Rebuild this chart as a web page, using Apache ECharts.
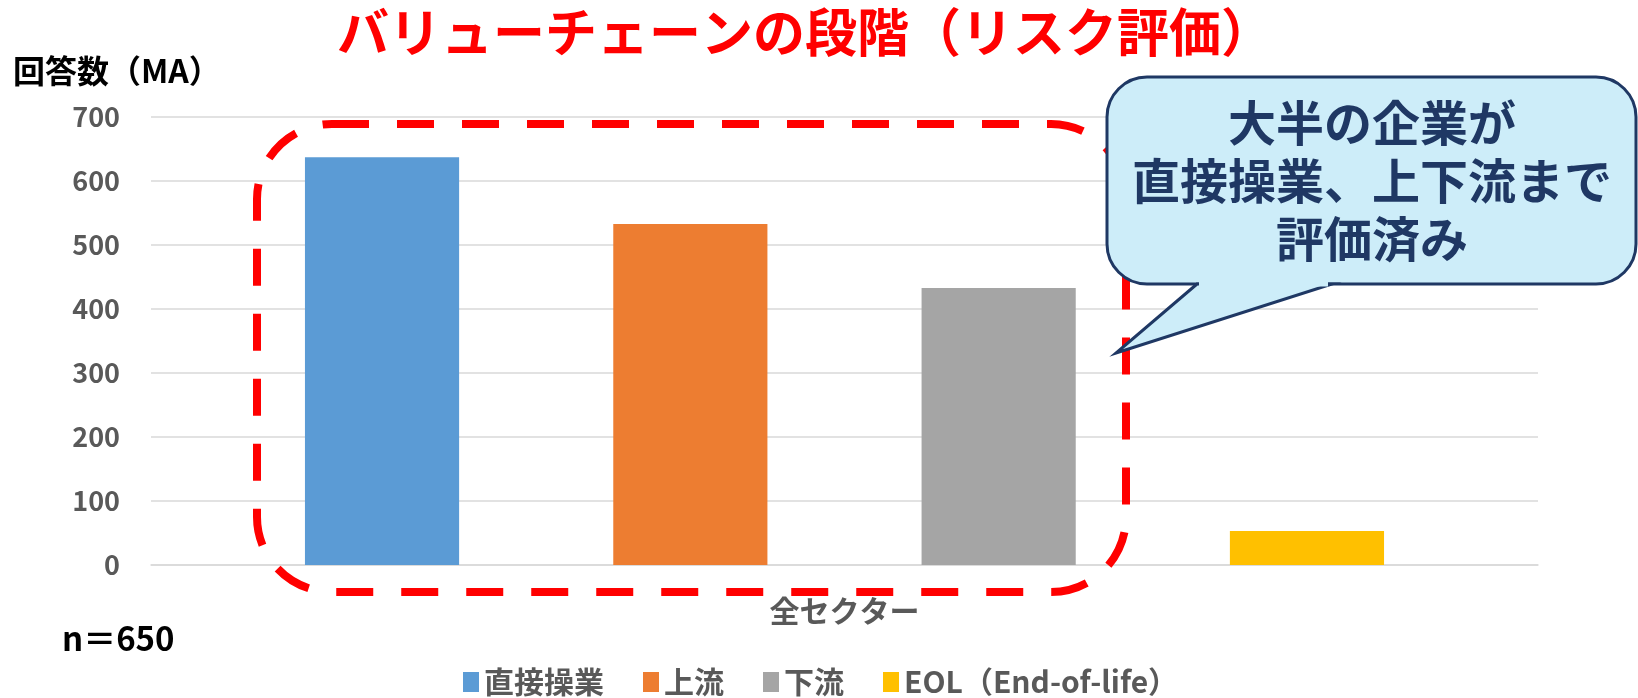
<!DOCTYPE html>
<html>
<head>
<meta charset="utf-8">
<script src="https://cdn.jsdelivr.net/npm/echarts@6/dist/echarts.min.js"></script>
<style>
html,body{margin:0;padding:0;background:#fff;}
#chart{width:1638px;height:698px;}
</style>
</head>
<body>
<div id="chart"></div>
<script>
const titleText = 'バリューチェーンの段階（リスク評価）';
const yAxisName = '回答数（MA）';
const categories = ['全セクター'];
const seriesNames = ['直接操業', '上流', '下流', 'EOL（End-of-life）'];
const seriesValues = [637, 533, 433, 53];
const seriesColors = ['#5B9BD5', '#ED7D31', '#A5A5A5', '#FFC000'];
const yMin = 0, yMax = 700, yInterval = 100;
const noteText = 'n＝650';
const calloutText = '大半の企業が\n直接操業、上下流まで\n評価済み';

const FONT = '"Noto Sans CJK JP", "Noto Sans", sans-serif';
const chart = echarts.init(document.getElementById('chart'), null, {renderer: 'canvas'});

const series = seriesNames.map((name, i) => ({
  name: name,
  type: 'bar',
  data: [seriesValues[i]],
  itemStyle: {color: seriesColors[i]},
  barGap: '100%',
  barCategoryGap: '22.2%'
}));

const calloutFill = '#CDEDF9';
const calloutStroke = '#1F3864';

chart.setOption({
  animation: false,
  textStyle: {fontFamily: FONT},
  title: {
    text: titleText,
    left: 800,
    textAlign: 'center',
    top: 1,
    textStyle: {fontFamily: FONT, fontSize: 52, fontWeight: 'bold', color: '#FF0000'}
  },
  grid: {left: 151, right: 100, top: 117, bottom: 133, containLabel: false},
  legend: {
    data: seriesNames,
    left: 458,
    top: 662,
    icon: 'rect',
    itemWidth: 16,
    itemHeight: 20,
    itemGap: 39,
    textStyle: {fontFamily: FONT, fontSize: 30, fontWeight: 'bold', color: '#595959'}
  },
  xAxis: {
    type: 'category',
    data: categories,
    axisTick: {show: false},
    axisLine: {show: true, lineStyle: {color: '#D9D9D9', width: 1.5}},
    axisLabel: {fontFamily: FONT, fontSize: 30, fontWeight: 'bold', color: '#595959', margin: 31}
  },
  yAxis: {
    type: 'value',
    min: yMin,
    max: yMax,
    interval: yInterval,
    axisLine: {show: false},
    axisTick: {show: false},
    splitLine: {lineStyle: {color: '#D9D9D9', width: 1.5}},
    axisLabel: {fontFamily: FONT, fontSize: 27, fontWeight: 'bold', color: '#595959', margin: 31}
  },
  series: series,
  graphic: [
    {
      type: 'text', left: 13, top: 55, z: 10,
      style: {text: yAxisName, fontFamily: FONT, fontSize: 32, fontWeight: 'bold', fill: '#000000'}
    },
    {
      type: 'text', left: 62, top: 622, z: 10,
      style: {text: noteText, fontFamily: FONT, fontSize: 33, fontWeight: 'bold', fill: '#000000'}
    },
    {
      type: 'rect', z: 20,
      shape: {x: 257, y: 124, width: 869, height: 468, r: 75},
      style: {fill: null, stroke: '#FF0000', lineWidth: 8, lineDash: [37, 28]}
    },
    {
      type: 'rect', z: 30,
      shape: {x: 1107, y: 77, width: 529, height: 207, r: 40},
      style: {fill: calloutFill, stroke: calloutStroke, lineWidth: 3}
    },
    {
      type: 'polygon', z: 31,
      shape: {points: [[1197, 284], [1116, 353], [1332, 284]]},
      style: {fill: calloutFill, stroke: calloutStroke, lineWidth: 3, lineJoin: 'miter'}
    },
    {
      type: 'line', z: 32,
      shape: {x1: 1199, y1: 284, x2: 1328, y2: 284},
      style: {stroke: calloutFill, lineWidth: 5}
    },
    {
      type: 'text', z: 33, x: 1372, y: 181,
      style: {
        text: calloutText, fontFamily: FONT, fontSize: 48, fontWeight: 'bold',
        fill: calloutStroke, align: 'center', verticalAlign: 'middle', lineHeight: 58
      }
    }
  ]
});
</script>
</body>
</html>
